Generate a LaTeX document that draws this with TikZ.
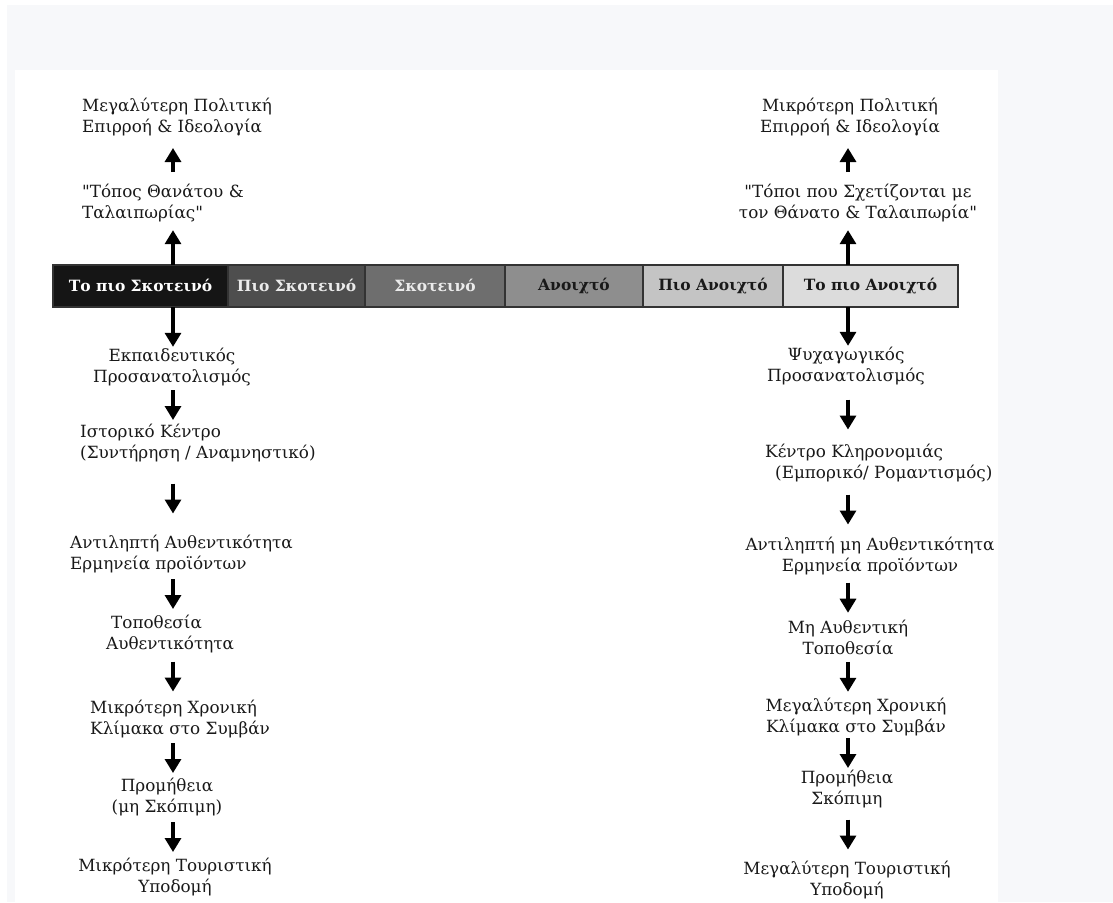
\documentclass[tikz,border=0pt]{standalone}
\usepackage{fontspec}
\setmainfont{DejaVu Serif}
\usetikzlibrary{arrows.meta}
\usetikzlibrary{positioning}
\definecolor{pagegray}{HTML}{F7F8FA}
\definecolor{tone1}{HTML}{151515}
\definecolor{tone2}{HTML}{4E4E4E}
\definecolor{tone3}{HTML}{6E6E6E}
\definecolor{tone4}{HTML}{8E8E8E}
\definecolor{tone5}{HTML}{C4C4C4}
\definecolor{tone6}{HTML}{DCDCDC}

\begin{document}
\begin{tikzpicture}[x=1pt, y=-1pt,
    stage/.style={align=center, inner sep=0pt, text=black!90,
      font=\fontsize{16.8}{21}\selectfont},
    shade/.style={draw=black!80, line width=1.5pt, minimum height=42,
      inner sep=0pt, outer sep=0pt, font=\bfseries\fontsize{15.5}{17}\selectfont},
    flow/.style={line width=3.2pt, -{Triangle[width=16pt,length=14pt]}}]
      \useasboundingbox (0,0) rectangle (1113,902);
      \fill[pagegray] (0,0) rectangle (1113,902);
      \fill[white] (0,0) rectangle (1113,5);
      \fill[white] (0,0) rectangle (7,902);
      \fill[white] (15,70) rectangle (998,902);

      \coordinate (colL) at (173,0);
      \coordinate (colR) at (848,0);

      % the scale from darkest to lightest
      \node[shade, fill=tone1, text=white, minimum width=175, anchor=west] (s1) at (53,286) {Το πιο Σκοτεινό};
      \node[shade, fill=tone2, text=white!92!black, minimum width=137, right=0pt of s1] (s2) {Πιο Σκοτεινό};
      \node[shade, fill=tone3, text=white!92!black, minimum width=140, right=0pt of s2] (s3) {Σκοτεινό};
      \node[shade, fill=tone4, text=black!90, minimum width=138, right=0pt of s3] (s4) {Ανοιχτό};
      \node[shade, fill=tone5, text=black!90, minimum width=140, right=0pt of s4] (s5) {Πιο Ανοιχτό};
      \node[shade, fill=tone6, text=black!90, minimum width=175, right=0pt of s5] (s6) {Το πιο Ανοιχτό};

      % dark side
      \node[stage, align=left, anchor=west] (polL) at (82,117) {Μεγαλύτερη Πολιτική\\Επιρροή \& Ιδεολογία};
      \node[stage, align=left, anchor=west] (deathL) at (82,203) {\textquotedbl Τόπος Θανάτου \&\\Ταλαιπωρίας\textquotedbl};
      \node[stage] (eduL) at (172,367) {Εκπαιδευτικός\\Προσανατολισμός};
      \node[stage, align=left, anchor=west] (histL) at (80,443) {Ιστορικό Κέντρο\\(Συντήρηση / Αναμνηστικό)};
      \node[stage, align=left, anchor=west] (percL) at (70,554) {Αντιληπτή Αυθεντικότητα\\Ερμηνεία προϊόντων};
      \node[stage, align=left, anchor=west] (siteL) at (106,634) {\hspace{5pt}Τοποθεσία\\Αυθεντικότητα};
      \node[stage, align=left, anchor=west] (timeL) at (90,719) {Μικρότερη Χρονική\\Κλίμακα στο Συμβάν};
      \node[stage] (supL) at (167,797) {Προμήθεια\\(μη Σκόπιμη)};
      \node[stage] (infL) at (175,877) {Μικρότερη Τουριστική\\Υποδομή};

      % light side
      \node[stage] (polR) at (850,117) {Μικρότερη Πολιτική\\Επιρροή \& Ιδεολογία};
      \node[stage] (deathR) at (858,203) {\textquotedbl Τόποι που Σχετίζονται με\\τον Θάνατο \& Ταλαιπωρία\textquotedbl};
      \node[stage] (eduR) at (846,366) {Ψυχαγωγικός\\Προσανατολισμός};
      \node[stage, align=left, anchor=west] (histR) at (765,463) {Κέντρο Κληρονομιάς\\\hspace{10pt}(Εμπορικό/ Ρομαντισμός)};
      \node[stage] (percR) at (870,556) {Αντιληπτή μη Αυθεντικότητα\\Ερμηνεία προϊόντων};
      \node[stage] (siteR) at (848,638) {Μη Αυθεντική\\Τοποθεσία};
      \node[stage] (timeR) at (856,717) {Μεγαλύτερη Χρονική\\Κλίμακα στο Συμβάν};
      \node[stage] (supR) at (847,789) {Προμήθεια\\Σκόπιμη};
      \node[stage] (infR) at (847,880) {Μεγαλύτερη Τουριστική\\Υποδομή};

      % upward arrows
      \draw[flow, shorten >=8pt] (s1.north -| colL) -- (deathL.south -| colL);
      \draw[flow, shorten >=8pt] (s6.north -| colR) -- (deathR.south -| colR);
      \foreach \a/\b/\c in {deathL/polL/colL, deathR/polR/colR} {
        \path (\a.north -| \c) -- coordinate[pos=0.5] (mid) (\b.south -| \c);
        \draw[flow] ([yshift=-12pt]mid) -- ([yshift=12pt]mid);
      }

      % downward arrows
      \draw[flow, shorten >=1pt] (s1.south -| colL) -- (eduL.north -| colL);
      \draw[flow, shorten >=1pt] (s6.south -| colR) -- (eduR.north -| colR);
      \foreach \a/\b/\c in {eduL/histL/colL, histL/percL/colL, percL/siteL/colL,
          siteL/timeL/colL, timeL/supL/colL, supL/infL/colL,
          eduR/histR/colR, histR/percR/colR, percR/siteR/colR,
          siteR/timeR/colR, timeR/supR/colR, supR/infR/colR} {
        \path (\a.south -| \c) -- coordinate[pos=0.5] (mid) (\b.north -| \c);
        \draw[flow] ([yshift=15pt]mid) -- ([yshift=-15pt]mid);
      }
    \end{tikzpicture}
\end{document}
